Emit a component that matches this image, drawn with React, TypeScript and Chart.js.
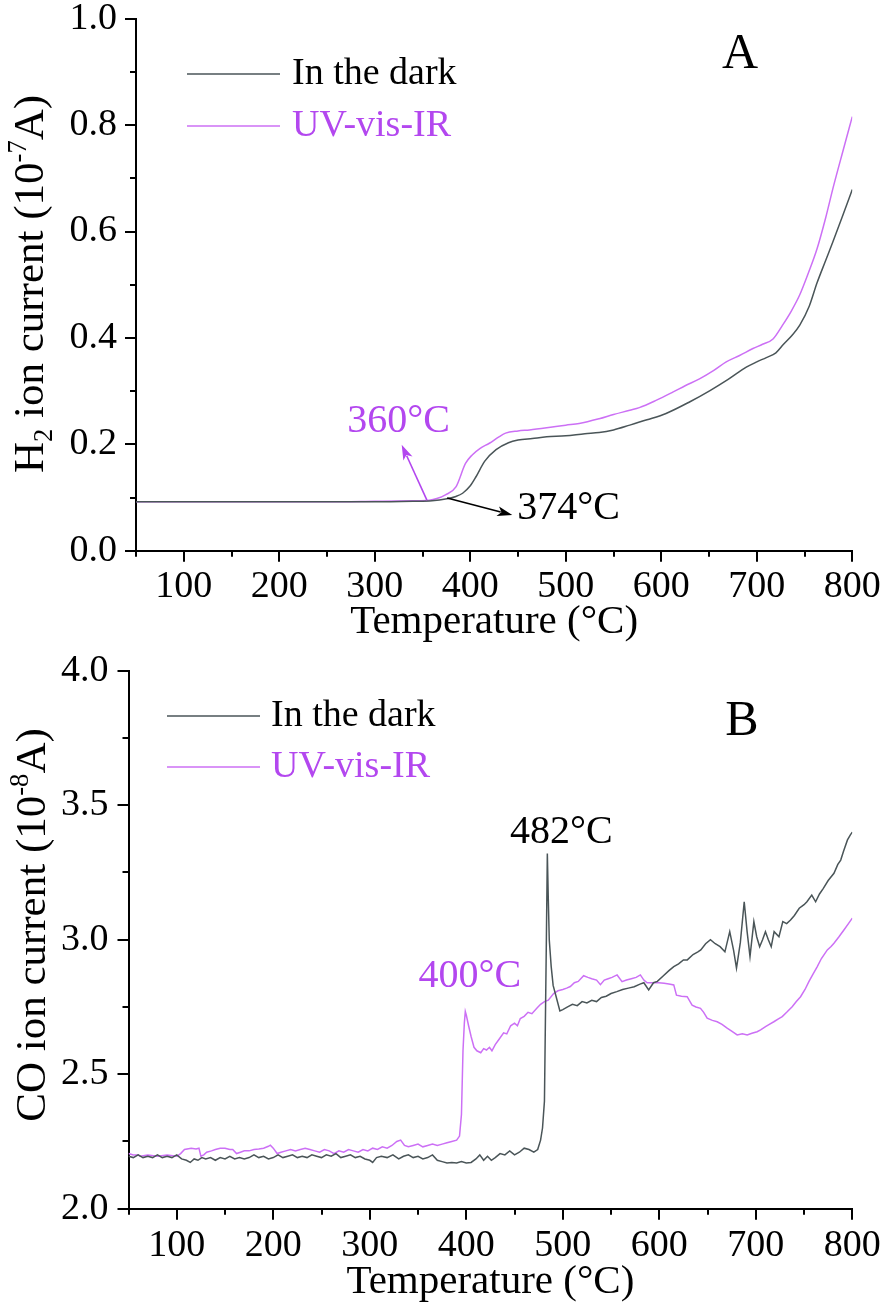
import React, { useEffect, useRef } from "react";
import { Chart, registerables } from "chart.js";

Chart.register(...registerables);

const FONT = "'Liberation Serif', 'Times New Roman', serif";
const DARK_LINE = "#4a5558";
const UV_LINE = "#cc70f5";
const UV_TEXT = "#b347ef";

const seriesLabels = ["In the dark", "UV-vis-IR"];
const legendTextColors = ["#000000", UV_TEXT];
const xTickLabels = [100, 200, 300, 400, 500, 600, 700, 800];
const yTickLabelsA = ["0.0", "0.2", "0.4", "0.6", "0.8", "1.0"];
const yTickLabelsB = ["2.0", "2.5", "3.0", "3.5", "4.0"];

// Panel A: H2 ion current (1e-7 A) vs temperature (°C)
const aDark: [number, number][] = [
  [50, 0.092], [100, 0.092], [150, 0.092], [200, 0.092], [250, 0.092], [300, 0.092],
  [340, 0.093], [360, 0.094], [374, 0.097], [385, 0.102], [392, 0.108], [400, 0.122],
  [406, 0.139], [415, 0.168], [427, 0.19], [440, 0.203], [450, 0.208], [465, 0.211],
  [480, 0.214], [500, 0.216], [520, 0.22], [535, 0.222], [550, 0.227], [567, 0.236],
  [585, 0.246], [605, 0.258], [630, 0.28], [651, 0.301], [670, 0.322], [689, 0.345],
  [700, 0.355], [710, 0.363], [720, 0.372], [728, 0.388], [737, 0.405], [745, 0.424],
  [755, 0.46], [763, 0.503], [772, 0.545], [780, 0.582], [790, 0.63], [800, 0.679],
];
const aUv: [number, number][] = [
  [50, 0.092], [100, 0.092], [150, 0.092], [200, 0.092], [250, 0.092], [300, 0.093],
  [340, 0.094], [357, 0.095], [365, 0.098], [374, 0.105], [385, 0.12], [395, 0.164],
  [402, 0.18], [410, 0.192], [420, 0.202], [430, 0.214], [437, 0.221], [450, 0.225],
  [462, 0.227], [480, 0.231], [500, 0.236], [514, 0.239], [535, 0.248], [550, 0.256],
  [567, 0.264], [577, 0.269], [595, 0.283], [612, 0.298], [625, 0.31], [640, 0.323],
  [655, 0.339], [668, 0.355], [682, 0.367], [696, 0.38], [706, 0.388], [717, 0.398],
  [727, 0.424], [736, 0.45], [745, 0.481], [754, 0.522], [763, 0.567], [772, 0.625],
  [780, 0.683], [790, 0.75], [800, 0.816],
];

// Panel B: CO ion current (1e-8 A) vs temperature (°C)
const bDark: [number, number][] = [
  [50, 2.195], [55, 2.19], [60, 2.2], [65, 2.19], [70, 2.195], [75, 2.19], [80, 2.2], [85, 2.19],
  [90, 2.195], [95, 2.19], [100, 2.2], [105, 2.185], [110, 2.18], [114, 2.172], [118, 2.185],
  [122, 2.18], [126, 2.19], [130, 2.185], [135, 2.19], [140, 2.18], [145, 2.19], [150, 2.185],
  [155, 2.195], [160, 2.185], [165, 2.19], [170, 2.185], [175, 2.19], [180, 2.2], [185, 2.19],
  [190, 2.195], [195, 2.185], [200, 2.19], [205, 2.2], [210, 2.19], [215, 2.195], [220, 2.2],
  [225, 2.19], [230, 2.195], [235, 2.19], [240, 2.2], [245, 2.195], [250, 2.19], [255, 2.2],
  [260, 2.195], [265, 2.205], [270, 2.19], [275, 2.195], [280, 2.2], [285, 2.19], [290, 2.195],
  [295, 2.185], [300, 2.18], [303, 2.172], [307, 2.19], [312, 2.195], [318, 2.19], [324, 2.2],
  [330, 2.185], [335, 2.195], [340, 2.2], [345, 2.19], [350, 2.195], [355, 2.185], [360, 2.19],
  [365, 2.2], [370, 2.18], [375, 2.175], [380, 2.17], [385, 2.172], [390, 2.17], [395, 2.175],
  [400, 2.17], [405, 2.172], [410, 2.185], [414, 2.2], [418, 2.18], [422, 2.195], [426, 2.18],
  [430, 2.19], [435, 2.205], [440, 2.2], [445, 2.215], [450, 2.2], [455, 2.21], [460, 2.225],
  [465, 2.22], [470, 2.21], [474, 2.22], [477, 2.255], [479, 2.3], [481, 2.4], [482, 2.7],
  [483, 3.0], [484, 3.32], [485, 3.15], [486, 3.0], [488, 2.9], [490, 2.83], [493, 2.79],
  [497, 2.735], [500, 2.74], [505, 2.75], [510, 2.76], [515, 2.755], [520, 2.77], [525, 2.765],
  [530, 2.775], [535, 2.77], [540, 2.785], [545, 2.79], [550, 2.8], [556, 2.807], [562, 2.815],
  [568, 2.82], [574, 2.825], [580, 2.835], [584, 2.84], [589, 2.813], [594, 2.84], [598, 2.845],
  [604, 2.865], [610, 2.885], [615, 2.9], [620, 2.91], [625, 2.925], [629, 2.925], [635, 2.945],
  [640, 2.955], [643, 2.962], [648, 2.985], [653, 3.0], [658, 2.985], [663, 2.974], [668, 2.955],
  [673, 3.03], [677, 2.96], [680, 2.894], [684, 2.99], [688, 3.141], [691, 3.03], [694, 2.937],
  [698, 3.067], [701, 3.01], [704, 2.974], [707, 3.0], [710, 3.03], [713, 3.0], [716, 2.974],
  [719, 3.03], [724, 3.011], [728, 3.067], [732, 3.06], [736, 3.073], [740, 3.09], [745, 3.117],
  [750, 3.13], [753, 3.141], [758, 3.166], [762, 3.141], [766, 3.17], [770, 3.191], [775, 3.22],
  [781, 3.247], [785, 3.28], [788, 3.296], [791, 3.33], [795, 3.371], [798, 3.39], [800, 3.4],
];
const bUv: [number, number][] = [
  [50, 2.205], [55, 2.2], [60, 2.2], [62, 2.195], [70, 2.2], [80, 2.195], [90, 2.2], [100, 2.195],
  [104, 2.205], [108, 2.22], [115, 2.225], [120, 2.222], [123, 2.225], [125, 2.195], [128, 2.2],
  [131, 2.21], [136, 2.215], [140, 2.22], [145, 2.225], [150, 2.225], [155, 2.22], [158, 2.22],
  [162, 2.205], [166, 2.21], [170, 2.215], [175, 2.215], [180, 2.22], [185, 2.222], [190, 2.225],
  [195, 2.232], [197, 2.236], [200, 2.225], [204, 2.205], [208, 2.21], [213, 2.215], [218, 2.22],
  [223, 2.215], [228, 2.22], [233, 2.225], [238, 2.22], [243, 2.215], [248, 2.21], [253, 2.22],
  [258, 2.215], [263, 2.205], [268, 2.215], [273, 2.21], [278, 2.22], [283, 2.215], [288, 2.21],
  [293, 2.22], [298, 2.215], [303, 2.225], [308, 2.22], [313, 2.23], [318, 2.225], [323, 2.235],
  [328, 2.25], [332, 2.255], [336, 2.235], [340, 2.23], [345, 2.235], [350, 2.24], [355, 2.23],
  [360, 2.235], [365, 2.24], [370, 2.235], [375, 2.24], [380, 2.245], [385, 2.25], [390, 2.255],
  [393, 2.27], [395, 2.35], [396.6, 2.587], [398, 2.69], [399, 2.733], [400, 2.72], [402.4, 2.68],
  [405, 2.64], [408, 2.6], [411, 2.587], [415, 2.58], [418, 2.595], [421, 2.59], [424, 2.6],
  [426.6, 2.587], [430, 2.61], [434, 2.63], [438.7, 2.654], [442, 2.65], [446, 2.68], [450, 2.69],
  [453, 2.68], [456, 2.707], [460, 2.715], [464, 2.73], [468, 2.725], [473.3, 2.746], [477, 2.76],
  [481, 2.77], [485, 2.775], [490.5, 2.8], [495, 2.81], [500, 2.815], [504, 2.82], [507.8, 2.826],
  [512, 2.84], [516, 2.845], [521.6, 2.866], [526, 2.86], [530, 2.855], [535, 2.85], [539, 2.833],
  [543, 2.85], [547, 2.855], [551, 2.86], [556.3, 2.869], [561.4, 2.844], [566, 2.85], [571, 2.855],
  [576, 2.86], [580.4, 2.869], [584, 2.85], [587.4, 2.84], [593, 2.84], [599.4, 2.84], [605, 2.838],
  [610, 2.835], [615, 2.832], [617.8, 2.794], [623, 2.79], [628.9, 2.788], [634, 2.757], [638, 2.75],
  [642.7, 2.745], [646, 2.73], [649.6, 2.708], [655, 2.7], [660, 2.695], [665, 2.685], [670.3, 2.671],
  [675, 2.66], [680.7, 2.646], [686, 2.65], [691.1, 2.646], [696, 2.652], [701.4, 2.658], [705, 2.665],
  [710.1, 2.677], [714, 2.685], [718.7, 2.695], [723, 2.705], [727.4, 2.714], [732, 2.73],
  [737.7, 2.751], [742, 2.77], [746.4, 2.788], [751, 2.815], [755, 2.844], [759, 2.87], [763.7, 2.9],
  [768, 2.93], [774.1, 2.962], [778, 2.975], [781, 2.987], [786, 3.01], [791.3, 3.036], [796, 3.06],
  [800, 3.08],
];

// Annotations (data coordinates)
const notesA = [
  { text: "360°C", x: 325, y: 0.243, color: UV_TEXT },
  { text: "374°C", x: 503, y: 0.08, color: "#000000" },
];
const arrowsA = [
  { from: [354.6, 0.095], to: [328.2, 0.199], color: UV_TEXT },
  { from: [375.8, 0.099], to: [444, 0.067], color: "#000000" },
];
const notesB = [
  { text: "482°C", x: 498.5, y: 3.4, color: "#000000" },
  { text: "400°C", x: 403.6, y: 2.863, color: UV_TEXT },
];

type Part = { t: string; s: number };
const yTitleA: Part[] = [
  { t: "H", s: 0 }, { t: "2", s: -1 }, { t: " ion current (10", s: 0 }, { t: "-7", s: 1 }, { t: "A)", s: 0 },
];
const yTitleB: Part[] = [
  { t: "CO ion current (10", s: 0 }, { t: "-8", s: 1 }, { t: "A)", s: 0 },
];

const toXY = (pts: [number, number][]) => pts.map(([x, y]) => ({ x, y }));

const tickMarks = {
  id: "tickMarks",
  afterDraw(chart: any) {
    const { ctx } = chart;
    const xs = chart.scales.x;
    const ys = chart.scales.y;
    ctx.save();
    ctx.strokeStyle = "#000";
    ctx.lineWidth = 2;
    ctx.beginPath();
    xs.ticks.forEach((t: any) => {
      const px = Math.round(xs.getPixelForValue(t.value));
      const len = t.label ? 11 : 6;
      ctx.moveTo(px, xs.top);
      ctx.lineTo(px, xs.top + len);
    });
    ys.ticks.forEach((t: any) => {
      const py = Math.round(ys.getPixelForValue(t.value));
      const len = t.label ? 11 : 6;
      ctx.moveTo(ys.right, py);
      ctx.lineTo(ys.right - len, py);
    });
    ctx.stroke();
    ctx.restore();
  },
};

function drawVerticalTitle(ctx: CanvasRenderingContext2D, parts: Part[], x: number, cy: number, size: number) {
  const small = size * 0.62;
  const widths = parts.map((p) => {
    ctx.font = `${p.s ? small : size}px ${FONT}`;
    return ctx.measureText(p.t).width;
  });
  const total = widths.reduce((a, b) => a + b, 0);
  ctx.save();
  ctx.translate(x, cy);
  ctx.rotate(-Math.PI / 2);
  ctx.fillStyle = "#000";
  ctx.textAlign = "left";
  ctx.textBaseline = "alphabetic";
  let pos = -total / 2;
  parts.forEach((p, i) => {
    ctx.font = `${p.s ? small : size}px ${FONT}`;
    const dy = p.s < 0 ? size * 0.2 : p.s > 0 ? -size * 0.4 : 0;
    ctx.fillText(p.t, pos, dy);
    pos += widths[i];
  });
  ctx.restore();
}

function drawArrow(ctx: CanvasRenderingContext2D, x1: number, y1: number, x2: number, y2: number, color: string) {
  const ang = Math.atan2(y2 - y1, x2 - x1);
  const hl = 15;
  const hw = 5;
  ctx.save();
  ctx.strokeStyle = color;
  ctx.fillStyle = color;
  ctx.lineWidth = 1.6;
  ctx.beginPath();
  ctx.moveTo(x1, y1);
  ctx.lineTo(x2 - Math.cos(ang) * hl * 0.8, y2 - Math.sin(ang) * hl * 0.8);
  ctx.stroke();
  ctx.beginPath();
  ctx.moveTo(x2, y2);
  ctx.lineTo(x2 - Math.cos(ang) * hl - Math.sin(ang) * hw, y2 - Math.sin(ang) * hl + Math.cos(ang) * hw);
  ctx.lineTo(x2 - Math.cos(ang) * hl * 0.75, y2 - Math.sin(ang) * hl * 0.75);
  ctx.lineTo(x2 - Math.cos(ang) * hl + Math.sin(ang) * hw, y2 - Math.sin(ang) * hl - Math.cos(ang) * hw);
  ctx.closePath();
  ctx.fill();
  ctx.restore();
}

type DecorCfg = {
  yTitle: Part[];
  yTitleX: number;
  yTitleCY: number;
  legendX1: number;
  legendX2: number;
  legendTextX: number;
  legendY: number;
  legendDY: number;
  letter: string;
  letterX: number;
  letterY: number;
  notes: { text: string; x: number; y: number; color: string }[];
  arrows: { from: number[]; to: number[]; color: string }[];
};

function makeDecor(cfg: DecorCfg) {
  return {
    id: "decor",
    afterDraw(chart: any) {
      const ctx: CanvasRenderingContext2D = chart.ctx;
      const xs = chart.scales.x;
      const ys = chart.scales.y;
      drawVerticalTitle(ctx, cfg.yTitle, cfg.yTitleX, cfg.yTitleCY, 43);
      ctx.save();
      chart.data.datasets.forEach((ds: any, i: number) => {
        const y = cfg.legendY + i * cfg.legendDY;
        ctx.strokeStyle = ds.borderColor;
        ctx.lineWidth = 1.6;
        ctx.beginPath();
        ctx.moveTo(cfg.legendX1, y);
        ctx.lineTo(cfg.legendX2, y);
        ctx.stroke();
        ctx.fillStyle = legendTextColors[i];
        ctx.font = `38px ${FONT}`;
        ctx.textAlign = "left";
        ctx.textBaseline = "middle";
        ctx.fillText(ds.label, cfg.legendTextX, y);
      });
      ctx.fillStyle = "#000";
      ctx.font = `50px ${FONT}`;
      ctx.textAlign = "center";
      ctx.textBaseline = "middle";
      ctx.fillText(cfg.letter, cfg.letterX, cfg.letterY);
      cfg.notes.forEach((n) => {
        ctx.fillStyle = n.color;
        ctx.font = `40px ${FONT}`;
        ctx.textAlign = "center";
        ctx.textBaseline = "middle";
        ctx.fillText(n.text, xs.getPixelForValue(n.x), ys.getPixelForValue(n.y));
      });
      ctx.restore();
      cfg.arrows.forEach((a) => {
        drawArrow(
          ctx,
          xs.getPixelForValue(a.from[0]),
          ys.getPixelForValue(a.from[1]),
          xs.getPixelForValue(a.to[0]),
          ys.getPixelForValue(a.to[1]),
          a.color
        );
      });
    },
  };
}

type PanelCfg = {
  dark: [number, number][];
  uv: [number, number][];
  yMin: number;
  yMax: number;
  yStep: number;
  yLabels: string[];
  left: number;
  top: number;
  rightPad: number;
  xAxisH: number;
  xTickPad: number;
  yTickPad: number;
  xTitlePad: number;
  smooth: boolean;
  decor: DecorCfg;
};

function buildConfig(p: PanelCfg): any {
  const zeroPad = (s: any) => {
    s.paddingTop = 0;
    s.paddingBottom = 0;
    s.paddingLeft = 0;
    s.paddingRight = 0;
  };
  const line = (label: string, pts: [number, number][], color: string) => ({
    label,
    data: toXY(pts),
    borderColor: color,
    backgroundColor: color,
    borderWidth: 1.5,
    pointRadius: 0,
    fill: false,
    tension: 0,
    cubicInterpolationMode: p.smooth ? "monotone" : "default",
  });
  return {
    type: "line",
    data: {
      datasets: [line(seriesLabels[0], p.dark, DARK_LINE), line(seriesLabels[1], p.uv, UV_LINE)],
    },
    options: {
      responsive: false,
      animation: false,
      devicePixelRatio: 1,
      layout: { padding: { left: 0, top: p.top, right: p.rightPad, bottom: 0 } },
      plugins: { legend: { display: false }, tooltip: { enabled: false }, title: { display: false } },
      scales: {
        x: {
          type: "linear",
          min: 50,
          max: 800,
          afterFit: (s: any) => {
            s.height = p.xAxisH;
            zeroPad(s);
          },
          ticks: {
            stepSize: 50,
            autoSkip: false,
            maxRotation: 0,
            minRotation: 0,
            padding: p.xTickPad,
            color: "#000",
            font: { family: FONT, size: 38, lineHeight: 1.2 },
            callback: (v: number) => (xTickLabels.includes(v) ? String(v) : ""),
          },
          grid: { display: false, drawTicks: false },
          border: { display: true, color: "#000", width: 2 },
          title: {
            display: true,
            text: "Temperature (°C)",
            color: "#000",
            font: { family: FONT, size: 41, lineHeight: 1 },
            padding: { top: 0, bottom: p.xTitlePad },
          },
        },
        y: {
          type: "linear",
          min: p.yMin,
          max: p.yMax,
          afterFit: (s: any) => {
            s.width = p.left;
            zeroPad(s);
          },
          ticks: {
            stepSize: p.yStep,
            autoSkip: false,
            padding: p.yTickPad,
            color: "#000",
            font: { family: FONT, size: 38, lineHeight: 1.2 },
            callback: (v: number) => {
              const s = Number(v).toFixed(1);
              return p.yLabels.includes(s) && Math.abs(Number(s) - v) < 1e-6 ? s : "";
            },
          },
          grid: { display: false, drawTicks: false },
          border: { display: true, color: "#000", width: 2 },
        },
      },
    },
    plugins: [tickMarks, makeDecor(p.decor)],
  };
}

const panelA: PanelCfg = {
  dark: aDark,
  uv: aUv,
  yMin: 0,
  yMax: 1,
  yStep: 0.1,
  yLabels: yTickLabelsA,
  left: 136,
  top: 18.7,
  rightPad: 33.7,
  xAxisH: 645 - 550.7,
  xTickPad: 14,
  yTickPad: 19,
  xTitlePad: 2,
  smooth: true,
  decor: {
    yTitle: yTitleA,
    yTitleX: 43,
    yTitleCY: 284,
    legendX1: 187,
    legendX2: 280,
    legendTextX: 292,
    legendY: 74,
    legendDY: 52,
    letter: "A",
    letterX: 740,
    letterY: 55,
    notes: notesA,
    arrows: arrowsA,
  },
};

const panelB: PanelCfg = {
  dark: bDark,
  uv: bUv,
  yMin: 2,
  yMax: 4,
  yStep: 0.25,
  yLabels: yTickLabelsB,
  left: 128.5,
  top: 25.7,
  rightPad: 33.7,
  xAxisH: 662 - 563.7,
  xTickPad: 15,
  yTickPad: 20,
  xTitlePad: 4,
  smooth: false,
  decor: {
    yTitle: yTitleB,
    yTitleX: 45,
    yTitleCY: 280,
    legendX1: 167,
    legendX2: 260,
    legendTextX: 271,
    legendY: 71,
    legendDY: 51,
    letter: "B",
    letterX: 742,
    letterY: 77,
    notes: notesB,
    arrows: [],
  },
};

function ChartPanel({ cfg, top, height }: { cfg: PanelCfg; top: number; height: number }) {
  const ref = useRef<HTMLCanvasElement>(null);
  useEffect(() => {
    if (!ref.current) return;
    const chart = new Chart(ref.current, buildConfig(cfg));
    return () => chart.destroy();
  }, [cfg]);
  return (
    <canvas
      ref={ref}
      width={886}
      height={height}
      style={{ position: "absolute", left: 0, top, width: 886, height, display: "block" }}
    />
  );
}

export default function App() {
  return (
    <div style={{ position: "absolute", left: 0, top: 0, width: 886, height: 1307, background: "#fff" }}>
      <ChartPanel cfg={panelA} top={0} height={645} />
      <ChartPanel cfg={panelB} top={645} height={662} />
    </div>
  );
}
